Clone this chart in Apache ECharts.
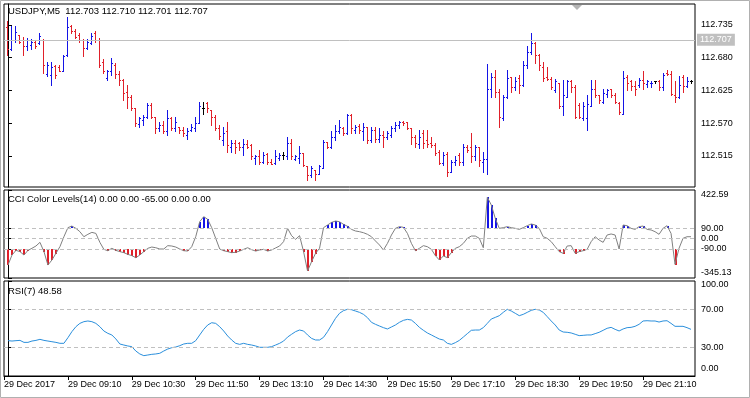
<!DOCTYPE html>
<html>
<head>
<meta charset="utf-8">
<script src="https://cdn.jsdelivr.net/npm/echarts@6/dist/echarts.min.js"></script>
<style>
  html, body { margin: 0; padding: 0; background: #fff; }
  #chart { width: 750px; height: 398px; }
</style>
</head>
<body>
<div id="chart"></div>
<script>
// M5 bars, 07:55 .. 22:10
var times = []
for (var m = 7 * 60 + 55; m <= 22 * 60 + 10; m += 5) {
  times.push(String(Math.floor(m / 60)).padStart(2, '0') + ':' + String(m % 60).padStart(2, '0'))
}
var tickTimes = ['09:10', '10:30', '11:50', '13:10', '14:30', '15:50', '17:10', '18:30', '19:50', '21:10']

var ohlcOpen = [
  112.732, 112.694, 112.710, 112.718, 112.709, 112.699, 112.701, 112.707, 112.705, 112.710,
  112.653, 112.651, 112.666, 112.665, 112.658, 112.685, 112.733, 112.725, 112.718, 112.709,
  112.696, 112.705, 112.721, 112.710, 112.673, 112.645, 112.657, 112.668, 112.653, 112.642,
  112.623, 112.614, 112.595, 112.568, 112.575, 112.581, 112.600, 112.580, 112.561, 112.567,
  112.556, 112.578, 112.561, 112.564, 112.558, 112.550, 112.558, 112.561, 112.570, 112.595,
  112.604, 112.592, 112.581, 112.561, 112.542, 112.556, 112.530, 112.537, 112.536, 112.530,
  112.535, 112.533, 112.511, 112.515, 112.505, 112.518, 112.505, 112.503, 112.511, 112.516,
  112.514, 112.536, 112.509, 112.511, 112.519, 112.498, 112.483, 112.491, 112.485, 112.494,
  112.539, 112.530, 112.547, 112.556, 112.561, 112.553, 112.584, 112.558, 112.565, 112.556,
  112.564, 112.542, 112.558, 112.544, 112.550, 112.547, 112.550, 112.561, 112.567, 112.572,
  112.571, 112.561, 112.547, 112.535, 112.553, 112.542, 112.536, 112.533, 112.522, 112.503,
  112.518, 112.488, 112.505, 112.516, 112.505, 112.530, 112.530, 112.514, 112.530, 112.505,
  112.509, 112.627, 112.647, 112.623, 112.578, 112.614, 112.647, 112.630, 112.645, 112.634,
  112.668, 112.690, 112.704, 112.685, 112.665, 112.648, 112.644, 112.626, 112.637, 112.598,
  112.614, 112.640, 112.630, 112.600, 112.578, 112.578, 112.599, 112.628, 112.617, 112.606,
  112.619, 112.627, 112.617, 112.603, 112.586, 112.648, 112.640, 112.632, 112.634, 112.642,
  112.636, 112.637, 112.640, 112.640, 112.630, 112.654, 112.653, 112.617, 112.614, 112.648,
  112.632, 112.640
]
var ohlcHigh = [
  112.742, 112.733, 112.733, 112.719, 112.714, 112.713, 112.711, 112.709, 112.721, 112.711,
  112.673, 112.672, 112.668, 112.668, 112.685, 112.749, 112.735, 112.728, 112.721, 112.711,
  112.711, 112.721, 112.725, 112.713, 112.677, 112.659, 112.679, 112.671, 112.658, 112.644,
  112.634, 112.617, 112.595, 112.581, 112.584, 112.604, 112.604, 112.580, 112.571, 112.574,
  112.592, 112.581, 112.581, 112.564, 112.564, 112.561, 112.568, 112.581, 112.606, 112.606,
  112.606, 112.592, 112.584, 112.567, 112.564, 112.572, 112.542, 112.542, 112.539, 112.544,
  112.542, 112.535, 112.516, 112.525, 112.522, 112.519, 112.509, 112.525, 112.519, 112.522,
  112.547, 112.543, 112.516, 112.531, 112.520, 112.498, 112.498, 112.491, 112.500, 112.542,
  112.539, 112.556, 112.567, 112.575, 112.563, 112.586, 112.585, 112.567, 112.568, 112.570,
  112.564, 112.564, 112.564, 112.561, 112.556, 112.556, 112.565, 112.571, 112.574, 112.574,
  112.572, 112.561, 112.550, 112.558, 112.558, 112.558, 112.547, 112.537, 112.525, 112.522,
  112.522, 112.508, 112.514, 112.520, 112.535, 112.533, 112.553, 112.533, 112.530, 112.522,
  112.669, 112.655, 112.660, 112.628, 112.617, 112.659, 112.648, 112.648, 112.651, 112.674,
  112.699, 112.721, 112.707, 112.687, 112.673, 112.665, 112.648, 112.644, 112.637, 112.642,
  112.642, 112.642, 112.634, 112.603, 112.606, 112.617, 112.642, 112.642, 112.617, 112.628,
  112.628, 112.628, 112.620, 112.606, 112.657, 112.651, 112.642, 112.640, 112.645, 112.657,
  112.642, 112.640, 112.641, 112.642, 112.654, 112.659, 112.657, 112.640, 112.649, 112.651,
  112.648, 112.642
]
var ohlcLow = [
  112.685, 112.693, 112.707, 112.704, 112.685, 112.693, 112.694, 112.696, 112.703, 112.655,
  112.649, 112.634, 112.645, 112.657, 112.657, 112.683, 112.721, 112.713, 112.707, 112.682,
  112.694, 112.703, 112.707, 112.665, 112.654, 112.642, 112.651, 112.645, 112.634, 112.609,
  112.595, 112.592, 112.565, 112.564, 112.567, 112.578, 112.578, 112.554, 112.556, 112.553,
  112.550, 112.558, 112.556, 112.553, 112.548, 112.544, 112.557, 112.557, 112.570, 112.586,
  112.589, 112.567, 112.558, 112.544, 112.533, 112.522, 112.522, 112.519, 112.525, 112.516,
  112.528, 112.509, 112.502, 112.502, 112.503, 112.502, 112.501, 112.502, 112.508, 112.509,
  112.509, 112.509, 112.508, 112.503, 112.497, 112.474, 112.480, 112.474, 112.485, 112.494,
  112.528, 112.528, 112.542, 112.554, 112.550, 112.552, 112.553, 112.553, 112.553, 112.542,
  112.536, 112.539, 112.539, 112.539, 112.530, 112.544, 112.546, 112.556, 112.561, 112.567,
  112.560, 112.535, 112.529, 112.528, 112.528, 112.530, 112.530, 112.516, 112.501, 112.500,
  112.481, 112.488, 112.500, 112.500, 112.500, 112.522, 112.505, 112.508, 112.497, 112.487,
  112.485, 112.614, 112.614, 112.564, 112.575, 112.613, 112.623, 112.626, 112.620, 112.632,
  112.662, 112.687, 112.671, 112.659, 112.640, 112.642, 112.628, 112.623, 112.595, 112.584,
  112.614, 112.623, 112.578, 112.578, 112.575, 112.558, 112.598, 112.614, 112.603, 112.603,
  112.614, 112.614, 112.603, 112.586, 112.586, 112.626, 112.626, 112.617, 112.631, 112.628,
  112.630, 112.630, 112.637, 112.626, 112.626, 112.651, 112.617, 112.606, 112.612, 112.623,
  112.631, 112.637
]
var ohlcClose = [
  112.694, 112.710, 112.724, 112.707, 112.699, 112.710, 112.707, 112.699, 112.716, 112.668,
  112.668, 112.665, 112.651, 112.658, 112.682, 112.732, 112.725, 112.715, 112.709, 112.696,
  112.707, 112.716, 112.710, 112.668, 112.657, 112.657, 112.671, 112.653, 112.642, 112.620,
  112.614, 112.595, 112.570, 112.578, 112.581, 112.600, 112.580, 112.561, 112.567, 112.556,
  112.578, 112.561, 112.572, 112.558, 112.553, 112.556, 112.564, 112.570, 112.598, 112.595,
  112.595, 112.581, 112.561, 112.548, 112.553, 112.533, 112.537, 112.530, 112.530, 112.535,
  112.530, 112.514, 112.514, 112.505, 112.516, 112.505, 112.502, 112.514, 112.516, 112.516,
  112.536, 112.514, 112.514, 112.519, 112.500, 112.483, 112.494, 112.485, 112.497, 112.539,
  112.530, 112.547, 112.556, 112.564, 112.553, 112.584, 112.561, 112.564, 112.558, 112.564,
  112.542, 112.558, 112.544, 112.550, 112.547, 112.553, 112.561, 112.567, 112.571, 112.570,
  112.561, 112.547, 112.536, 112.547, 112.536, 112.535, 112.533, 112.519, 112.503, 112.516,
  112.488, 112.505, 112.508, 112.505, 112.530, 112.525, 112.514, 112.530, 112.508, 112.509,
  112.627, 112.647, 112.623, 112.580, 112.614, 112.645, 112.631, 112.640, 112.634, 112.668,
  112.690, 112.705, 112.685, 112.668, 112.645, 112.644, 112.631, 112.640, 112.598, 112.617,
  112.640, 112.630, 112.581, 112.580, 112.598, 112.602, 112.628, 112.617, 112.609, 112.620,
  112.626, 112.617, 112.606, 112.588, 112.645, 112.637, 112.632, 112.628, 112.642, 112.637,
  112.640, 112.638, 112.640, 112.630, 112.651, 112.653, 112.619, 112.614, 112.634, 112.632,
  112.640, 112.640
]
var cci = [
  -232, -145, -104, -115, -145, -104, -86, -66, -34, -115,
  -232, -188, -130, -72, 15, 94, 108, 88, 59, 15,
  36, 53, 44, -34, -95, -107, -86, -104, -115, -124,
  -139, -150, -168, -145, -115, -86, -75, -81, -92, -92,
  -63, -66, -75, -92, -107, -110, -72, 15, 146, 190,
  167, 94, 1, -92, -107, -115, -124, -121, -110, -95,
  -81, -98, -110, -101, -95, -110, -101, -83, -66, -28,
  88, 24, -8, 24, -115, -284, -203, -130, -86, 94,
  117, 140, 152, 146, 123, 106, 79, 65, 59, 50,
  36, 15, -22, -57, -101, -43, 30, 88, 103, 97,
  44, -43, -107, -86, -63, -72, -95, -150, -188, -153,
  -168, -124, -86, -72, -43, 1, 21, 21, 1, -81,
  360, 292, 175, 88, 94, 103, 94, 88, 79, 94,
  111, 126, 117, 88, 15, 1, -28, -72, -115, -130,
  -66, -63, -130, -115, -107, -95, -28, 15, -14, -34,
  30, 39, 30, -92, 117, 111, 88, 79, 103, 108,
  79, 74, 59, 36, 88, 111, 44, -226, -86, 1,
  15, 15
]
var rsi = [
  37.2, 36.8, 37.2, 37.5, 35.4, 35.4, 36.8, 37.5, 38.6, 37.5,
  36.8, 36.1, 35.4, 34.4, 34.4, 40.3, 46.7, 51.9, 55.4, 57.2,
  57.9, 57.2, 55.4, 51.9, 47.4, 44.9, 43.2, 39.0, 33.7, 32.6,
  31.6, 30.9, 26.3, 23.2, 21.4, 22.1, 22.8, 23.2, 23.9, 26.3,
  28.4, 29.8, 30.5, 31.9, 33.7, 34.4, 34.4, 37.2, 43.2, 49.1,
  53.7, 56.1, 55.4, 51.9, 47.4, 42.1, 37.9, 34.4, 33.3, 34.4,
  33.3, 32.6, 31.6, 30.2, 30.2, 30.2, 30.9, 32.6, 34.4, 36.8,
  41.0, 43.9, 46.7, 48.4, 47.4, 43.2, 39.6, 37.9, 37.9, 40.7,
  46.7, 53.7, 60.7, 66.0, 68.8, 70.2, 69.8, 68.4, 67.0, 64.9,
  61.4, 56.5, 54.4, 52.6, 50.9, 49.5, 51.6, 53.7, 56.5, 58.6,
  59.6, 58.9, 55.4, 51.2, 48.1, 45.3, 43.2, 41.0, 38.9, 37.9,
  34.4, 33.3, 35.1, 37.5, 41.0, 44.6, 48.1, 48.4, 48.4, 50.9,
  55.4, 60.0, 61.7, 63.5, 67.0, 70.2, 68.4, 66.0, 63.5, 64.9,
  67.0, 69.1, 70.2, 69.5, 67.0, 62.5, 57.9, 53.7, 48.4, 46.3,
  46.0, 45.3, 43.9, 42.5, 42.8, 43.2, 43.2, 44.6, 46.0, 48.1,
  50.2, 51.2, 49.1, 47.4, 49.5, 50.9, 51.2, 52.3, 54.4, 57.9,
  58.2, 57.9, 57.9, 56.8, 57.9, 58.2, 55.4, 52.3, 52.3, 52.3,
  50.9, 49.1
]
var priceTicks = [112.735, 112.680, 112.625, 112.570, 112.515]
var bidPrice = 112.707
var cciTicks = [422.59, 90, 0, -90, -345.13]
var cciLevels = [90, 0, -90]
var rsiTicks = [100, 70, 30, 0]
var rsiLevels = [70, 30]

var upColor = '#1414e6'
var downColor = '#e0202a'
var font = 'Liberation Sans, Arial, sans-serif'
var axisText = { color: '#000', fontSize: 9, lineHeight: 9, fontFamily: font }

var myChart = echarts.init(document.getElementById('chart'))

function sideAxis(gridIndex, min, max, ticks, fmt, nudge) {
  return {
    type: 'value',
    gridIndex: gridIndex,
    position: 'right',
    min: min,
    max: max,
    splitLine: { show: false },
    axisLine: { show: true, lineStyle: { color: '#000' } },
    axisTick: { show: true, length: 4, customValues: ticks, lineStyle: { color: '#000' } },
    axisLabel: Object.assign({
      margin: 6,
      hideOverlap: false,
      customValues: ticks,
      formatter: function (v) {
        var s = fmt(v)
        if (nudge && v === max) return '{dn|' + s + '}'
        if (nudge && v === min) return '{up|' + s + '}'
        return s
      },
      rich: {
        dn: Object.assign({ padding: [nudge ? nudge[0] : 0, 0, 0, 0] }, axisText),
        up: Object.assign({ padding: [0, 0, nudge ? nudge[1] : 0, 0] }, axisText)
      }
    }, axisText)
  }
}

function timeAxis(gridIndex, show) {
  var customs = [-1].concat(tickTimes.map(function (t) { return times.indexOf(t) }))
  return {
    type: 'value',
    gridIndex: gridIndex,
    min: -1,
    max: times.length,
    show: show,
    splitLine: { show: false },
    axisLine: { show: true, lineStyle: { color: '#000' } },
    axisTick: { show: true, length: 4, customValues: customs, lineStyle: { color: '#000' } },
    axisLabel: Object.assign({
      margin: 4,
      align: 'left',
      customValues: customs,
      formatter: function (v) {
        return v < 0 ? '29 Dec 2017' : '29 Dec ' + times[v]
      }
    }, axisText)
  }
}

function levelLines(levels) {
  return {
    silent: true,
    symbol: 'none',
    label: { show: false },
    lineStyle: { color: '#c0c0c0', type: [4, 3], width: 1 },
    data: levels.map(function (v) { return { yAxis: v } })
  }
}

function px(x, y, w, h, color) {
  return { type: 'rect', shape: { x: x, y: y, width: w, height: h }, style: { fill: color, stroke: null, lineWidth: 0 } }
}

var titleStyle = { color: '#000', fontSize: 9.5, fontWeight: 'normal', fontFamily: font }

var option = {
  animation: false,
  backgroundColor: '#fff',
  title: [
    { text: 'USDJPY,M5  112.703 112.710 112.701 112.707', left: 8, top: 6, padding: 0, textStyle: titleStyle },
    { text: 'CCI Color Levels(14) 0.00 0.00 -65.00 0.00 0.00', left: 8, top: 194, padding: 0, textStyle: titleStyle },
    { text: 'RSI(7) 48.58', left: 8, top: 286, padding: 0, textStyle: titleStyle }
  ],
  grid: [
    { left: 4, top: 4, width: 691, height: 183, show: true, borderColor: '#000', borderWidth: 1, backgroundColor: '#fff' },
    { left: 4, top: 190, width: 691, height: 88, show: true, borderColor: '#000', borderWidth: 1, backgroundColor: '#fff' },
    { left: 4, top: 281, width: 691, height: 95, show: true, borderColor: '#000', borderWidth: 1, backgroundColor: '#fff' }
  ],
  xAxis: [timeAxis(0, false), timeAxis(1, false), timeAxis(2, true)],
  yAxis: [
    sideAxis(0, 112.4625, 112.7703, priceTicks, function (v) { return v.toFixed(3) }),
    sideAxis(1, -345.13, 422.59, cciTicks, function (v) { return v.toFixed(2) }, [9, 11]),
    sideAxis(2, 0, 100, rsiTicks, function (v) { return v.toFixed(2) }, [8, 14])
  ],
  graphic: [
    { type: 'polygon', shape: { points: [[572, 5], [582, 5], [577, 10]] }, style: { fill: '#b4b4b4' } },
    { type: 'rect', shape: { x: 0.5, y: 0.5, width: 749, height: 397 }, style: { fill: null, stroke: '#b0b0b0' } }
  ],
  series: [
    {
      type: 'line',
      xAxisIndex: 0,
      yAxisIndex: 0,
      data: [],
      markLine: {
        silent: true,
        symbol: 'none',
        lineStyle: { color: '#c0c0c0', type: 'solid', width: 1 },
        label: {
          show: true,
          position: 'end',
          distance: 2,
          formatter: bidPrice.toFixed(3),
          backgroundColor: '#c0c0c0',
          color: '#fff',
          padding: [2, 3, 1, 3],
          fontSize: 9,
          fontFamily: font
        },
        data: [{ yAxis: bidPrice }]
      }
    },
    {
      type: 'custom',
      xAxisIndex: 0,
      yAxisIndex: 0,
      data: ohlcOpen.map(function (o, i) { return [i, o, ohlcHigh[i], ohlcLow[i], ohlcClose[i]] }),
      encode: { x: 0, y: [1, 2, 3, 4] },
      renderItem: function (params, api) {
        var i = api.value(0)
        var o = api.value(1)
        var c = api.value(4)
        var pO = api.coord([i, o])
        var pH = api.coord([i, api.value(2)])
        var pL = api.coord([i, api.value(3)])
        var pC = api.coord([i, c])
        var x = Math.floor(pO[0])
        var color = c > o ? upColor : (c < o ? downColor : '#000')
        var yh = Math.round(pH[1])
        var yl = Math.round(pL[1])
        return {
          type: 'group',
          children: [
            px(x, yh, 1, yl - yh + 1, color),
            px(x - 1, Math.round(pO[1]), 1, 1, color),
            px(x + 1, Math.round(pC[1]), 1, 1, color)
          ]
        }
      }
    },
    {
      type: 'custom',
      xAxisIndex: 1,
      yAxisIndex: 1,
      data: cci.map(function (v, i) { return [i, v] }),
      encode: { x: 0, y: 1 },
      renderItem: function (params, api) {
        var i = api.value(0)
        var v = api.value(1)
        var base
        var color
        if (v > 90) { base = 90; color = upColor } else if (v < -90) { base = -90; color = downColor } else return null
        var p0 = api.coord([i, base])
        var p1 = api.coord([i, v])
        var y0 = Math.round(Math.min(p0[1], p1[1]))
        return px(Math.floor(p0[0]), y0, 2, Math.round(Math.abs(p1[1] - p0[1])), color)
      }
    },
    {
      type: 'line',
      xAxisIndex: 1,
      yAxisIndex: 1,
      data: cci.map(function (v, i) { return [i, v] }),
      showSymbol: false,
      lineStyle: { color: '#808080', width: 1 },
      markLine: levelLines(cciLevels)
    },
    {
      type: 'line',
      xAxisIndex: 2,
      yAxisIndex: 2,
      data: rsi.map(function (v, i) { return [i, v] }),
      showSymbol: false,
      lineStyle: { color: '#2a8fdc', width: 1 },
      markLine: levelLines(rsiLevels)
    }
  ]
}
myChart.setOption(option)
</script>
</body>
</html>
